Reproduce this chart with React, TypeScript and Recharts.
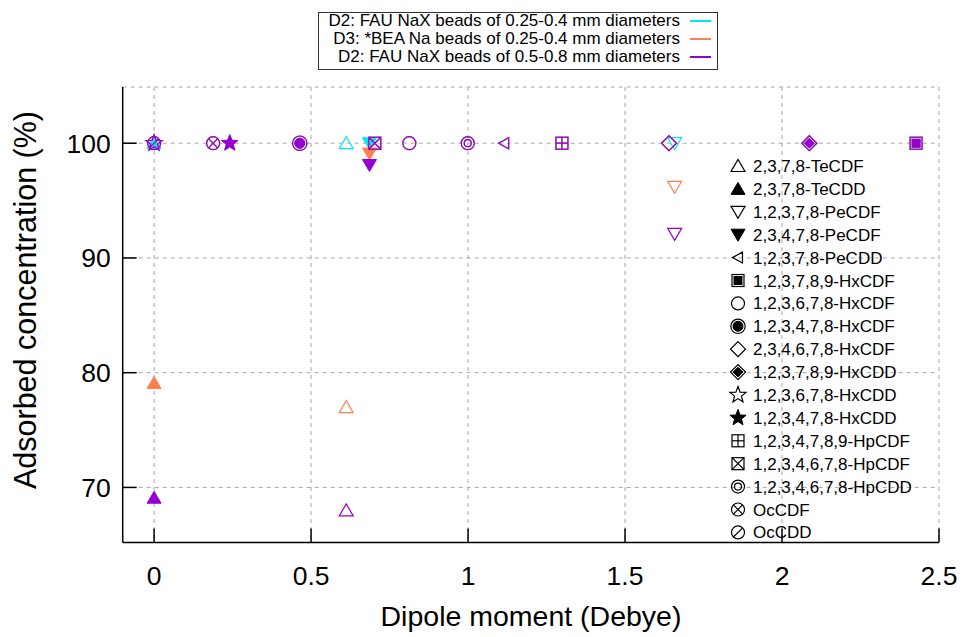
import React from "react";
import { CartesianGrid, Scatter, ScatterChart, XAxis, YAxis } from "recharts";

// congeners, in legend order
const compounds = [
  "2,3,7,8-TeCDF",
  "2,3,7,8-TeCDD",
  "1,2,3,7,8-PeCDF",
  "2,3,4,7,8-PeCDF",
  "1,2,3,7,8-PeCDD",
  "1,2,3,7,8,9-HxCDF",
  "1,2,3,6,7,8-HxCDF",
  "1,2,3,4,7,8-HxCDF",
  "2,3,4,6,7,8-HxCDF",
  "1,2,3,7,8,9-HxCDD",
  "1,2,3,6,7,8-HxCDD",
  "1,2,3,4,7,8-HxCDD",
  "1,2,3,4,7,8,9-HpCDF",
  "1,2,3,4,6,7,8-HpCDF",
  "1,2,3,4,6,7,8-HpCDD",
  "OcCDF",
  "OcCDD",
];
const markers = [
  "triUp", "triUpFill", "triDown", "triDownFill", "triLeft", "squareDot",
  "circle", "circleDot", "diamond", "diamondDot", "star", "starFill",
  "squarePlus", "squareCross", "circleDouble", "circleCross", "circleSlash",
];
const dipole = [0.612, 0, 1.658, 0.686, 1.115, 2.427, 0.813, 0.464, 1.64, 2.087, 0, 0.241, 1.299, 0.703, 0.999, 0.188, 0];

const d2Small = [100, 100, 100, 100, 100, 100, 100, 100, 100, 100, 100, 100, 100, 100, 100, 100, 100];
const d3Bea = [77, 79.1, 96.2, 99.1, 100, 100, 100, 100, 100, 100, 100, 100, 100, 100, 100, 100, 100];
const d2Large = [68, 69.1, 92.1, 98.1, 100, 100, 100, 100, 100, 100, 100, 100, 100, 100, 100, 100, 100];

const seriesNames = [
  "D2: FAU NaX beads of 0.25-0.4 mm diameters",
  "D3: *BEA Na beads of 0.25-0.4 mm diameters",
  "D2: FAU NaX beads of 0.5-0.8 mm diameters",
];
const seriesColors = ["#00e8ee", "#ff7f50", "#9400d3"];
const seriesValues = [d2Small, d3Bea, d2Large];

const xTicks = [0, 0.5, 1, 1.5, 2, 2.5];
const yTicks = [70, 80, 90, 100];

const FONT = "'Liberation Sans', Arial, Helvetica, sans-serif";

function starPts(R: number, r: number) {
  const out: number[][] = [];
  for (let i = 0; i < 10; i++) {
    const a = -Math.PI / 2 + (i * Math.PI) / 5;
    const rr = i % 2 ? r : R;
    out.push([rr * Math.cos(a), rr * Math.sin(a)]);
  }
  return out;
}

function Marker({ kind, cx, cy, color }: { kind: string; cx: number; cy: number; color: string }) {
  const st = { stroke: color, strokeWidth: 1.2, fill: "none" };
  const fl = { stroke: color, strokeWidth: 1, fill: color };
  const P = (a: number[][]) => a.map(([dx, dy]) => `${cx + dx},${cy + dy}`).join(" ");
  const up = [[0, -6.5], [7, 5.5], [-7, 5.5]];
  const dn = [[0, 6.5], [7, -5.5], [-7, -5.5]];
  const lf = [[-5.5, 0], [4.5, -5.5], [4.5, 5.5]];
  const dia = [[0, -7.5], [7.5, 0], [0, 7.5], [-7.5, 0]];
  const sq = { x: cx - 6, y: cy - 6, width: 12, height: 12 };
  switch (kind) {
    case "triUp":
      return <polygon points={P(up)} {...st} />;
    case "triUpFill":
      return <polygon points={P(up)} {...fl} />;
    case "triDown":
      return <polygon points={P(dn)} {...st} />;
    case "triDownFill":
      return <polygon points={P(dn)} {...fl} />;
    case "triLeft":
      return <polygon points={P(lf)} {...st} />;
    case "squareDot":
      return (
        <g>
          <rect {...sq} {...st} />
          <rect x={cx - 4} y={cy - 4} width={8} height={8} {...fl} />
        </g>
      );
    case "circle":
      return <circle cx={cx} cy={cy} r={6.5} {...st} />;
    case "circleDot":
      return (
        <g>
          <circle cx={cx} cy={cy} r={7.2} {...st} />
          <circle cx={cx} cy={cy} r={5} {...fl} />
        </g>
      );
    case "diamond":
      return <polygon points={P(dia)} {...st} />;
    case "diamondDot":
      return (
        <g>
          <polygon points={P(dia)} {...st} />
          <polygon points={P(dia.map(([a, b]) => [a * 0.65, b * 0.65]))} {...fl} />
        </g>
      );
    case "star":
      return <polygon points={P(starPts(8.5, 3.6))} {...st} />;
    case "starFill":
      return <polygon points={P(starPts(8.5, 3.6))} {...fl} />;
    case "squarePlus":
      return (
        <g {...st}>
          <rect {...sq} />
          <line x1={cx} x2={cx} y1={cy - 6} y2={cy + 6} />
          <line x1={cx - 6} x2={cx + 6} y1={cy} y2={cy} />
        </g>
      );
    case "squareCross":
      return (
        <g {...st}>
          <rect {...sq} />
          <line x1={cx - 6} x2={cx + 6} y1={cy - 6} y2={cy + 6} />
          <line x1={cx - 6} x2={cx + 6} y1={cy + 6} y2={cy - 6} />
        </g>
      );
    case "circleDouble":
      return (
        <g {...st}>
          <circle cx={cx} cy={cy} r={6.5} />
          <circle cx={cx} cy={cy} r={3.5} />
        </g>
      );
    case "circleCross":
      return (
        <g {...st}>
          <circle cx={cx} cy={cy} r={6.5} />
          <line x1={cx - 4.6} x2={cx + 4.6} y1={cy - 4.6} y2={cy + 4.6} />
          <line x1={cx - 4.6} x2={cx + 4.6} y1={cy + 4.6} y2={cy - 4.6} />
        </g>
      );
    case "circleSlash":
      return (
        <g {...st}>
          <circle cx={cx} cy={cy} r={6.5} />
          <line x1={cx - 4.6} x2={cx + 4.6} y1={cy + 4.6} y2={cy - 4.6} />
        </g>
      );
    default:
      return null;
  }
}

const BottomTick = (p: any) => (
  <g>
    <line x1={p.x} x2={p.x} y1={p.y} y2={p.y - 14} stroke="#000" strokeWidth={1.5} />
    <text x={p.x} y={p.y + 42} textAnchor="middle" fontFamily={FONT} fontSize={26.5} fill="#000">
      {String(p.payload.value)}
    </text>
  </g>
);
const TopTick = (p: any) => (
  <line x1={p.x} x2={p.x} y1={p.y} y2={p.y + 14} stroke="#000" strokeWidth={1.5} />
);
const LeftTick = (p: any) => (
  <g>
    <line x1={p.x} x2={p.x + 14} y1={p.y} y2={p.y} stroke="#000" strokeWidth={1.5} />
    <text x={p.x - 12} y={p.y + 9.5} textAnchor="end" fontFamily={FONT} fontSize={26.5} fill="#000">
      {String(p.payload.value)}
    </text>
  </g>
);
const RightTick = (p: any) => (
  <line x1={p.x} x2={p.x - 14} y1={p.y} y2={p.y} stroke="#000" strokeWidth={1.5} />
);

const axisLine = { stroke: "#000", strokeWidth: 1.5 };

export default function App() {
  const data = seriesValues.map((vals) =>
    compounds.map((c, i) => ({ name: c, x: dipole[i], y: vals[i], kind: markers[i] }))
  );
  return (
    <div style={{ position: "relative", width: 967, height: 637, background: "#fff" }}>
      <style>{"body{margin:0}"}</style>
      <ScatterChart width={967} height={637} margin={{ top: 87, right: 28, bottom: 0, left: 0 }}>
        <CartesianGrid stroke="#a8a8a8" strokeDasharray="4 4" strokeWidth={1} />
        <XAxis
          type="number"
          dataKey="x"
          domain={[-0.1, 2.5]}
          ticks={xTicks}
          interval={0}
          allowDataOverflow
          height={94.5}
          tickSize={0}
          tickMargin={0}
          tickLine={false}
          axisLine={axisLine}
          tick={<BottomTick />}
        />
        <XAxis
          xAxisId="top"
          orientation="top"
          type="number"
          domain={[-0.1, 2.5]}
          ticks={xTicks}
          interval={0}
          allowDataOverflow
          height={0}
          tickSize={0}
          tickMargin={0}
          tickLine={false}
          axisLine={axisLine}
          tick={<TopTick />}
        />
        <YAxis
          type="number"
          dataKey="y"
          domain={[65.2, 104.9]}
          ticks={yTicks}
          interval={0}
          allowDataOverflow
          width={122.7}
          tickSize={0}
          tickMargin={0}
          tickLine={false}
          axisLine={axisLine}
          tick={<LeftTick />}
        />
        <YAxis
          yAxisId="right"
          orientation="right"
          type="number"
          domain={[65.2, 104.9]}
          ticks={yTicks}
          interval={0}
          allowDataOverflow
          width={0}
          tickSize={0}
          tickMargin={0}
          tickLine={false}
          axisLine={axisLine}
          tick={<RightTick />}
        />
        {data.map((d, s) => (
          <Scatter
            key={s}
            name={seriesNames[s]}
            data={d}
            isAnimationActive={false}
            shape={(p: any) => (
              <Marker kind={p.payload.kind} cx={p.cx} cy={p.cy} color={seriesColors[s]} />
            )}
          />
        ))}
      </ScatterChart>

      <svg
        width={967}
        height={637}
        style={{ position: "absolute", left: 0, top: 0, pointerEvents: "none" }}
      >
        <text
          x={531}
          y={626}
          textAnchor="middle"
          fontFamily={FONT}
          fontSize={28.5}
          fill="#000"
        >
          Dipole moment (Debye)
        </text>
        <text
          transform="translate(36,300) rotate(-90)"
          textAnchor="middle"
          fontFamily={FONT}
          fontSize={30.5}
          fill="#000"
        >
          Adsorbed concentration (%)
        </text>

        {/* series key at the top */}
        <rect x={318.5} y={12.5} width={399} height={57} fill="none" stroke="#333" strokeWidth={1} />
        {seriesNames.map((n, i) => (
          <g key={n}>
            <text x={680} y={26 + i * 18} textAnchor="end" fontFamily={FONT} fontSize={17} fill="#000">
              {n}
            </text>
            <line x1={690} x2={711} y1={21 + i * 18} y2={21 + i * 18} stroke={seriesColors[i]} strokeWidth={2} />
          </g>
        ))}

        {/* congener key inside the plot */}
        {compounds.map((c, i) => (
          <g key={c}>
            <Marker kind={markers[i]} cx={738} cy={166 + i * 22.9} color="#000" />
            <text x={753} y={172 + i * 22.9} fontFamily={FONT} fontSize={17} fill="#000">
              {c}
            </text>
          </g>
        ))}
      </svg>
    </div>
  );
}
